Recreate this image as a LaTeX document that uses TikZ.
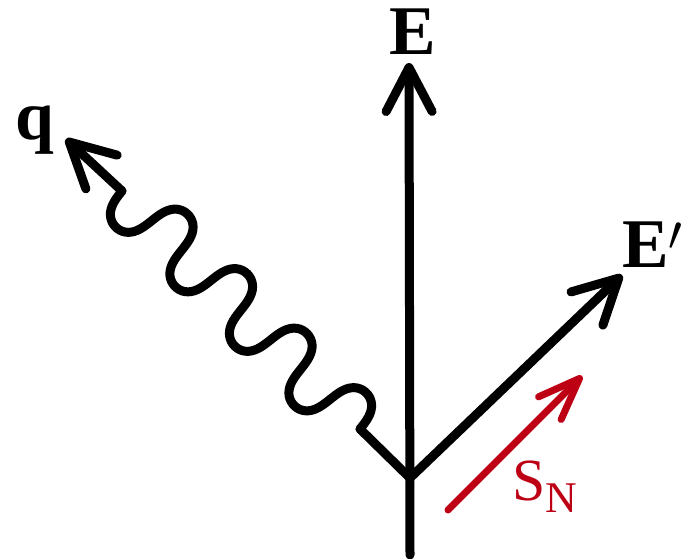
\documentclass[tikz,border=0pt]{standalone}
\usepackage{fontspec}
\setmainfont{Liberation Serif}
\usetikzlibrary{arrows.meta}
\definecolor{spinred}{RGB}{190,0,20}

\begin{document}
\begin{tikzpicture}[x=0.5bp, y=-0.5bp,
  vec/.style={line width=4.5bp, line cap=round, line join=round},
  bigtip/.style={-{Straight Barb[length=22bp, width=23bp, round]}},
  smalltip/.style={-{Straight Barb[length=21bp, width=16bp, round]}},
  lab/.style={font=\fontsize{35}{40}\selectfont\bfseries, inner sep=0pt, anchor=base}]

\useasboundingbox (0,0) rectangle (697,559);

% --- Points ---
\coordinate (O) at (410,478);
\coordinate (bot) at (410,555);
\coordinate (Etip) at (409,63);
\coordinate (Eptip) at (622,275);
\coordinate (w1) at (360,429);
\coordinate (w2) at (122,191);
\coordinate (qtip) at (66,139);
\coordinate (Stail) at (448,510);
\coordinate (Stip) at (582,376);

% --- Labels ---
\node[lab] (E) at (413,55) {E};
\node[lab] (Ep) at (653,268) {E$'$};
\node[lab] (q) at (35,140) {q};
\node[font=\fontsize{30}{34}\selectfont, text=spinred, inner sep=0pt, anchor=base west]
  (SN) at (512,500) {S\raisebox{-6bp}{\fontsize{22}{24}\selectfont N}};

% --- Vectors ---
\draw[vec, bigtip] (bot) -- (Etip);
\draw[vec, bigtip] (O) -- (Eptip);

% Photon line: straight, four wiggles, straight
\draw[vec] (O) -- (w1);
\begin{scope}[shift={(w1)}, rotate=135]
  \draw[vec] plot[domain=0:336.6, samples=200, smooth]
    ({\x - 5*sin(\x*8.556)}, {30*sin(\x*4.278)});
\end{scope}
\draw[vec, bigtip] (w2) -- (qtip);

% Spin of the neutron
\draw[vec, line width=3.5bp, spinred, smalltip] (Stail) -- (Stip);

\end{tikzpicture}
\end{document}
